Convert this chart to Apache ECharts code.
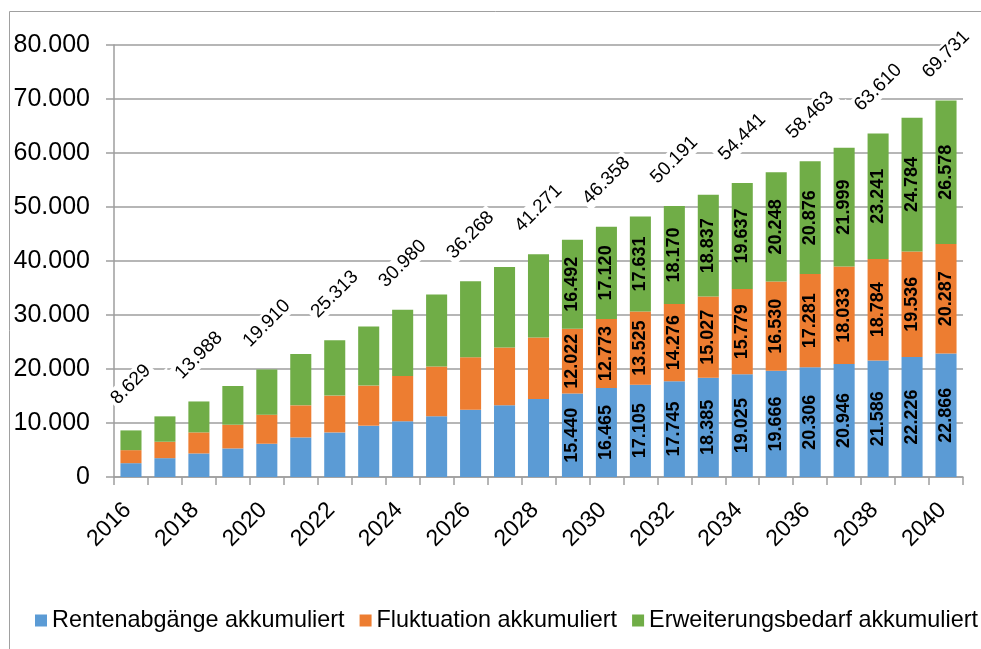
<!DOCTYPE html>
<html>
<head>
    <meta charset="UTF-8"/>
    <title>Ersatzbedarf</title>
    <script type="text/javascript" src="https://cdn.jsdelivr.net/npm/echarts@6/dist/echarts.min.js"></script>
    <style>
        html, body { margin: 0; padding: 0; background: #fff; }
        #chart { width: 981px; height: 649px; }
    </style>
</head>
<body>
<div id="chart"></div>
<script>
    var jahre = ['2016','2017','2018','2019','2020','2021','2022','2023','2024','2025','2026','2027','2028',
        '2029','2030','2031','2032','2033','2034','2035','2036','2037','2038','2039','2040'];
    var renten = [2561, 3489, 4362, 5290, 6162, 7331, 8259, 9503, 10301, 11229, 12472, 13270, 14440,
        15440, 16465, 17105, 17745, 18385, 19025, 19666, 20306, 20946, 21586, 22226, 22866];
    var fluktuation = [2413, 3044, 3897, 4398, 5382, 5939, 6812, 7424, 8407, 9224, 9707, 10710, 11396,
        12022, 12773, 13525, 14276, 15027, 15779, 16530, 17281, 18033, 18784, 19536, 20287];
    var erweiterung = [3655, 4696, 5729, 7164, 8366, 9522, 10242, 10950, 12272, 13363, 14089, 14903, 15435,
        16492, 17120, 17631, 18170, 18837, 19637, 20248, 20876, 21999, 23241, 24784, 26578];
    var gesamt = [8629, 11229, 13988, 16852, 19910, 22792, 25313, 27877, 30980, 33816, 36268, 38883, 41271,
        43954, 46358, 48261, 50191, 52249, 54441, 56444, 58463, 60978, 63610, 66546, 69731];
    var namen = ['Rentenabgänge akkumuliert', 'Fluktuation akkumuliert', 'Erweiterungsbedarf akkumuliert'];
    var farben = ['#5B9BD5', '#ED7D31', '#70AD47'];
    var ersterMitLabel = 13; // Werte in den Balken erst ab 2029

    var schrift = "'Liberation Sans', Arial, sans-serif";

    function tausender(v) {
        return String(v).replace(/\B(?=(\d{3})+(?!\d))/g, '.');
    }

    function stapel(name, werte, farbe) {
        var data = werte.map(function (v, i) {
            return {value: v, label: {show: i >= ersterMitLabel}};
        });
        return {
            name: name,
            type: 'bar',
            stack: 'summe',
            barWidth: '62%',
            barGap: '-100%',
            itemStyle: {color: farbe},
            label: {
                position: 'inside',
                rotate: 90,
                align: 'center',
                verticalAlign: 'middle',
                color: '#000',
                fontWeight: 'bold',
                fontSize: 18,
                fontFamily: schrift,
                formatter: function (p) { return tausender(p.value); }
            },
            data: data
        };
    }

    var chart = echarts.init(document.getElementById('chart'));
    var option = {
        animation: false,
        textStyle: {fontFamily: schrift},
        graphic: [{
            // Rahmen um das Diagramm
            type: 'rect',
            silent: true,
            shape: {x: 9.5, y: 11.5, width: 1000, height: 700},
            style: {fill: 'none', stroke: '#a0a0a0', lineWidth: 1}
        }],
        grid: {left: 114, right: 18, top: 45, bottom: 172},
        legend: {
            data: namen,
            left: 30,
            top: 604,
            width: 950,
            icon: 'rect',
            itemWidth: 12,
            itemHeight: 12,
            itemGap: 15,
            textStyle: {color: '#000', fontSize: 23.4, fontFamily: schrift}
        },
        xAxis: {
            type: 'category',
            data: jahre,
            boundaryGap: true,
            axisLine: {lineStyle: {color: '#9e9e9e', width: 1.5}},
            axisTick: {show: true, interval: 0, length: 8, lineStyle: {color: '#9e9e9e', width: 1.5}},
            axisLabel: {
                interval: 1,
                rotate: 45,
                margin: 26,
                padding: [0, 5, 0, 0],
                color: '#000',
                fontSize: 23,
                fontFamily: schrift
            }
        },
        yAxis: {
            type: 'value',
            min: 0,
            max: 80000,
            interval: 10000,
            axisLine: {show: true, lineStyle: {color: '#9e9e9e', width: 1.5}},
            axisTick: {show: true, length: 8, lineStyle: {color: '#9e9e9e', width: 1.5}},
            splitLine: {lineStyle: {color: '#9e9e9e', width: 1.5}},
            axisLabel: {
                margin: 24,
                color: '#000',
                fontSize: 25,
                fontFamily: schrift,
                formatter: function (v) { return tausender(v); }
            }
        },
        series: [
            stapel(namen[0], renten, farben[0]),
            stapel(namen[1], fluktuation, farben[1]),
            stapel(namen[2], erweiterung, farben[2]),
            {
                name: 'Gesamt',
                type: 'bar',
                barWidth: '62%',
                barGap: '-100%',
                z: 1,
                itemStyle: {color: 'rgba(0,0,0,0)'},
                label: {
                    show: true,
                    position: ['50%', -46],
                    rotate: 45,
                    align: 'center',
                    verticalAlign: 'middle',
                    color: '#000',
                    fontSize: 19,
                    fontFamily: schrift,
                    backgroundColor: '#fff',
                    padding: [1, 3],
                    formatter: function (p) {
                        return p.dataIndex % 2 === 0 ? tausender(p.value) : '';
                    }
                },
                data: gesamt
            }
        ]
    };
    chart.setOption(option);
</script>
</body>
</html>
